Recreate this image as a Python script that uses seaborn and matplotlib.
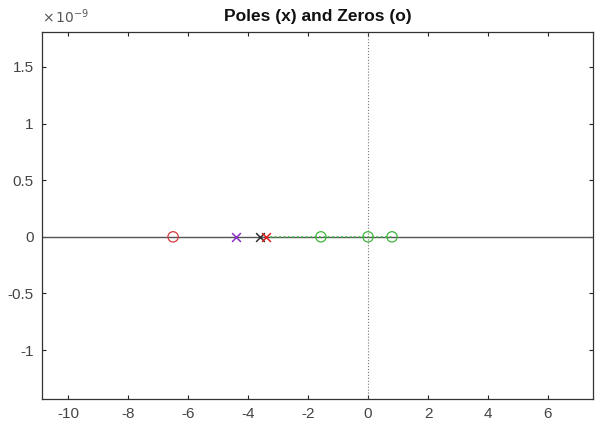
import numpy as np
import pandas as pd
import seaborn as sns
import matplotlib.pyplot as plt
from matplotlib.ticker import FuncFormatter

# pole / zero locations (all on the real axis)
zero_re = [-6.5, -1.57, 0.0, 0.8]
zero_colors = ["#d43c3c", "#3cb83c", "#3cb83c", "#3cb83c"]
pole_re = [-4.4, -3.6, -3.4]
pole_colors = ["#8b2fc9", "#333333", "#e02020"]

# green dotted link between the red pole and the right-most zero
link_re = [-3.4, 0.8]

xticks = [-10, -8, -6, -4, -2, 0, 2, 4, 6]
yticks = [-1e-9, -0.5e-9, 0, 0.5e-9, 1e-9, 1.5e-9]
y_scale = 1e-9

sns.set_style("white")
plt.rcParams["font.family"] = ["Liberation Sans", "DejaVu Sans"]
plt.rcParams["axes.unicode_minus"] = False

fig = plt.figure(figsize=(5.95, 4.23), dpi=100)
ax = fig.add_axes([0.0706, 0.057, 0.926, 0.868])

# reference lines
ax.axhline(0, color="#555555", linewidth=1.0, zorder=1)
ax.axvline(0, color="#777777", linewidth=0.8, linestyle=":", zorder=1)

zeros = pd.DataFrame({"re": zero_re, "im": np.zeros(len(zero_re))})
poles = pd.DataFrame({"re": pole_re, "im": np.zeros(len(pole_re))})
link = pd.DataFrame({"re": link_re, "im": [0.0, 0.0]})

sns.lineplot(data=link, x="re", y="im", ax=ax, color="#3cb83c",
             linestyle=":", linewidth=1.2, zorder=2)

for i in range(len(zeros)):
    sns.scatterplot(data=zeros.iloc[[i]], x="re", y="im", ax=ax, marker="o",
                    s=55, facecolors="none", edgecolor=zero_colors[i],
                    linewidth=0.9, zorder=3)
for i in range(len(poles)):
    sns.scatterplot(data=poles.iloc[[i]], x="re", y="im", ax=ax, marker="x",
                    s=40, color=pole_colors[i], linewidth=1.1, zorder=3)

ax.set_xlim(-10.87, 7.5)
ax.set_ylim(-1.43e-9, 1.81e-9)
ax.set_xticks(xticks)
ax.set_yticks(yticks)
ax.yaxis.set_major_formatter(FuncFormatter(lambda v, p: f"{v / y_scale:g}"))
ax.text(0.0, 1.015, r"$\times\,10^{-9}$", transform=ax.transAxes,
        fontsize=10, color="#555555", ha="left", va="bottom")

ax.set_xlabel("")
ax.set_ylabel("")
ax.set_title("Poles (x) and Zeros (o)", fontsize=12.5, fontweight="bold",
             color="#111111", pad=8)

ax.tick_params(direction="in", length=3, width=0.8, labelsize=11,
               colors="#222222", labelcolor="#444444", pad=6,
               top=True, right=True, bottom=True, left=True)
for sp in ax.spines.values():
    sp.set_color("#333333")
    sp.set_linewidth(0.9)

fig.savefig("out.png", dpi=100)
